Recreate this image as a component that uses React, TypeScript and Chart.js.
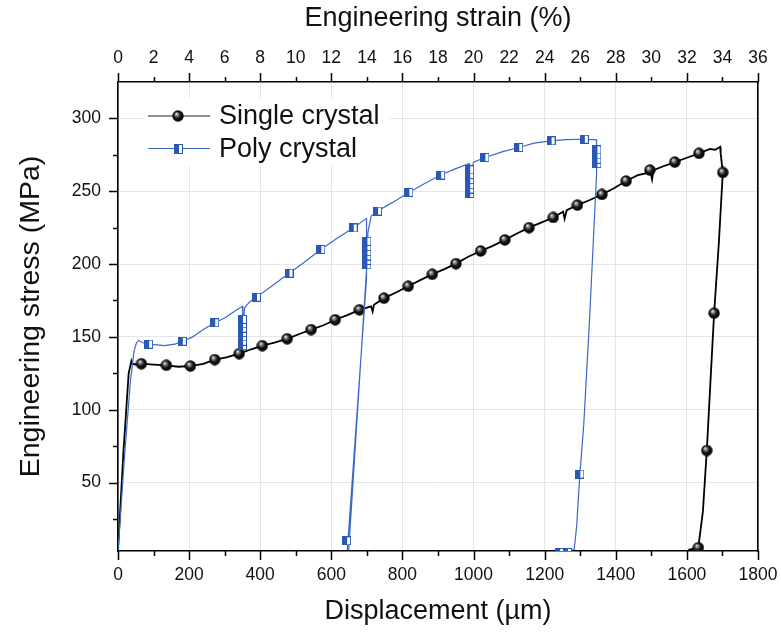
import React, { useEffect, useRef } from 'react';
import { Chart, registerables } from 'chart.js';

Chart.register(...registerables);

// ---------- data ----------
const singleLineX = [0, 15, 30, 37.7, 40, 50, 65.8, 100, 136, 170, 203.7, 240, 272, 305, 340.7, 375, 406, 440, 475.8, 510, 543, 578, 611, 645, 679, 712, 716, 720, 748, 782, 816, 850, 884, 918, 950.5, 985, 1020, 1054, 1088, 1122, 1156, 1190, 1224, 1252, 1256, 1262, 1292, 1327, 1361, 1395, 1429, 1462, 1498, 1502, 1506, 1532, 1566, 1600, 1634, 1665, 1680, 1693.5, 1695, 1701, 1690, 1676.6, 1666, 1656, 1645, 1632, 1604];
const singleLineY = [3, 70, 125, 133.4, 131.6, 131, 131.6, 131, 130.5, 129.5, 130, 131.5, 134.4, 136, 138.5, 141.5, 144, 146, 148.7, 152, 155, 158, 161.8, 165, 168.6, 171, 167.5, 172, 176.6, 180.5, 184.8, 189, 193, 196.5, 200.3, 205, 209, 212.5, 216.6, 221, 225, 228.5, 232, 236, 231, 237, 240.5, 244, 247.8, 252, 257, 261, 263, 258, 264.5, 267, 270, 273, 276, 279, 278.5, 280.5, 276, 262.9, 215, 166.3, 118, 72, 30, 5.3, 3.8];

const singleMarkX = [65.8, 136, 203.7, 272, 340.7, 406, 475.8, 543, 611, 679, 748, 816, 884, 950.5, 1020, 1088, 1156, 1224, 1292, 1361, 1429, 1496, 1566, 1634, 1701, 1676.6, 1656, 1632];
const singleMarkY = [131.6, 130.5, 130, 134.4, 138.5, 144, 148.7, 155, 161.8, 168.6, 176.6, 184.8, 193, 200.3, 209, 216.6, 225, 232, 240.5, 247.8, 257, 264.5, 270, 276, 262.9, 166.3, 72, 5.3];

const polyLineX = [0, 19, 35, 45, 52, 58, 70, 86, 110, 130, 160, 181, 210, 240, 272, 300, 330, 350, 351, 353, 356, 370, 389.5, 430, 481, 520, 570.5, 615, 661.5, 699, 700, 698, 645, 649, 700, 703, 712, 730, 770, 818, 860, 907.4, 950, 988, 989, 992, 1000, 1032, 1080, 1127, 1170, 1218, 1260, 1311.6, 1346, 1347, 1345, 1326, 1310, 1299, 1290, 1283, 1229];
const polyLineY = [3, 70, 120, 140, 146, 147.6, 146, 145, 144.5, 144, 145, 147, 150, 155, 159.7, 163, 168, 171, 141, 160, 170, 174, 177.3, 184.5, 193.7, 200.5, 210, 217.5, 224.8, 231.4, 197, 190, 4, 4, 200, 222, 233, 236.4, 242, 249.2, 255, 261.1, 265.5, 269, 246, 262, 270, 273.2, 277, 280, 283, 284.6, 285.5, 285.7, 285.3, 266.5, 262, 161, 90, 55.8, 20, 4, 3];

const polyMarkX = [86, 181, 272, 350, 350, 350, 350, 350, 350, 350, 389.5, 481, 570.5, 661.5, 700, 700, 700, 700, 700, 700, 643, 730, 818, 907.4, 989, 989, 989, 989, 989, 989, 1032, 1127, 1218, 1311.6, 1347, 1347, 1347, 1347, 1299, 1242, 1264];
const polyMarkY = [145, 147, 159.7, 144, 147, 150, 153, 156, 159, 162, 177.3, 193.7, 210, 224.8, 199.5, 202.5, 205.5, 208.5, 212, 215.6, 10, 236.4, 249.2, 261.1, 248.5, 251.5, 254.5, 258, 261.5, 264.7, 273.2, 280, 284.6, 285.7, 269, 272, 275, 278.4, 55.8, 2, 2];

// ---------- axes ----------
const displacementTicks = [0, 200, 400, 600, 800, 1000, 1200, 1400, 1600, 1800];
const displacementGrid = [0, 100, 200, 300, 400, 500, 600, 700, 800, 900, 1000, 1100, 1200, 1300, 1400, 1500, 1600, 1700, 1800];
const strainTicks = [0, 2, 4, 6, 8, 10, 12, 14, 16, 18, 20, 22, 24, 26, 28, 30, 32, 34, 36];
const stressTicks = [50, 100, 150, 200, 250, 300];
const stressMinor = [25, 75, 125, 175, 225, 275];
const xRange = [0, 1800];
const strainRange = [0, 36];
const yRange = [3, 325];

const seriesNames = ['Single crystal', 'Poly crystal'];

const FONT = "'Liberation Sans', Arial, Helvetica, sans-serif";
const BLUE = '#3d69c6';
const BLUE_FILL = '#2a58b6';

function makeSphere(d: number): HTMLCanvasElement {
  const c = document.createElement('canvas');
  c.width = d; c.height = d;
  const g = c.getContext('2d')!;
  const r = d / 2;
  const grad = g.createRadialGradient(r - 1.8, r - 2.2, 0.2, r, r, r);
  grad.addColorStop(0, '#f6f6f6');
  grad.addColorStop(0.22, '#8a8a8a');
  grad.addColorStop(0.55, '#151515');
  grad.addColorStop(1, '#000');
  g.beginPath();
  g.arc(r, r, r - 0.3, 0, Math.PI * 2);
  g.fillStyle = grad;
  g.fill();
  return c;
}

function makeHalfSquare(w: number, h: number): HTMLCanvasElement {
  const c = document.createElement('canvas');
  c.width = w; c.height = h;
  const g = c.getContext('2d')!;
  g.fillStyle = '#fff';
  g.fillRect(0, 0, w, h);
  g.fillStyle = BLUE_FILL;
  g.fillRect(0, 0, Math.ceil(w / 2), h);
  g.strokeStyle = BLUE_FILL;
  g.lineWidth = 1;
  g.strokeRect(0.5, 0.5, w - 1, h - 1);
  return c;
}

const pts = (xs: number[], ys: number[]) => xs.map((x, i) => ({ x, y: ys[i] }));

const noPad = (s: any) => { s.paddingLeft = 0; s.paddingRight = 0; s.paddingTop = 0; s.paddingBottom = 0; };

export default function App() {
  const ref = useRef<HTMLCanvasElement>(null);

  useEffect(() => {
    const canvas = ref.current!;
    const sphere = makeSphere(12);
    const sphereLegend = makeSphere(12);
    const square = makeHalfSquare(9, 9);
    const squareLegend = makeHalfSquare(9, 10);

    const tickPlugin = {
      id: 'customTicks',
      afterDraw(chart: any) {
        const { ctx, chartArea: a, scales } = chart;
        const x = scales.x;
        const y = scales.y;
        ctx.save();
        ctx.strokeStyle = '#000';
        ctx.lineWidth = 1.5;
        ctx.beginPath();
        displacementGrid.forEach((v) => {
          const px = Math.round(x.getPixelForValue(v)) + 0.5;
          const len = displacementTicks.includes(v) ? 9 : 5;
          ctx.moveTo(px, a.bottom);
          ctx.lineTo(px, a.bottom + len);
        });
        strainTicks.forEach((v, i) => {
          const px = Math.round(scales.x2.getPixelForValue(v)) + 0.5;
          const len = i % 2 === 0 ? 9 : 5;
          ctx.moveTo(px, a.top);
          ctx.lineTo(px, a.top - len);
        });
        stressTicks.forEach((v) => {
          const py = Math.round(y.getPixelForValue(v)) + 0.5;
          ctx.moveTo(a.left, py);
          ctx.lineTo(a.left - 9, py);
        });
        stressMinor.forEach((v) => {
          const py = Math.round(y.getPixelForValue(v)) + 0.5;
          ctx.moveTo(a.left, py);
          ctx.lineTo(a.left - 5, py);
        });
        ctx.stroke();
        ctx.restore();
      },
    };

    const legendPlugin = {
      id: 'customLegend',
      afterDraw(chart: any) {
        const { ctx, chartArea: a } = chart;
        ctx.save();
        const bx = a.left + 25;
        const by = a.top + 16;
        ctx.fillStyle = '#fff';
        ctx.fillRect(bx, by, 246, 68);
        const rows = [
          { y: a.top + 34, color: '#222', lw: 1, img: sphereLegend, name: seriesNames[0] },
          { y: a.top + 66.5, color: BLUE, lw: 1.2, img: squareLegend, name: seriesNames[1] },
        ];
        rows.forEach((r) => {
          ctx.strokeStyle = r.color;
          ctx.lineWidth = r.lw;
          ctx.beginPath();
          ctx.moveTo(a.left + 30, r.y);
          ctx.lineTo(a.left + 92, r.y);
          ctx.stroke();
          const mx = a.left + 60;
          ctx.drawImage(r.img, Math.round(mx - r.img.width / 2), Math.round(r.y - r.img.height / 2));
          ctx.fillStyle = '#111';
          ctx.font = `27px ${FONT}`;
          ctx.textBaseline = 'middle';
          ctx.textAlign = 'left';
          ctx.fillText(r.name, a.left + 101, r.y + 1);
        });
        ctx.restore();
      },
    };

    const gridColor = '#e6e6e6';
    const tickFont = { family: FONT, size: 17.5 };
    const titleFont = { family: FONT, size: 27 };

    const chart = new Chart(canvas, {
      type: 'scatter',
      data: {
        datasets: [
          {
            label: seriesNames[1] + ' markers',
            data: pts(polyMarkX, polyMarkY),
            showLine: false,
            pointStyle: square as any,
            pointRadius: 4.5,
            order: 0,
          },
          {
            label: seriesNames[1],
            data: pts(polyLineX, polyLineY),
            showLine: true,
            borderColor: BLUE,
            borderWidth: 1.2,
            pointRadius: 0,
            tension: 0,
            order: 1,
          },
          {
            label: seriesNames[0] + ' markers',
            data: pts(singleMarkX, singleMarkY),
            showLine: false,
            pointStyle: sphere as any,
            pointRadius: 6,
            order: 2,
          },
          {
            label: seriesNames[0],
            data: pts(singleLineX, singleLineY),
            showLine: true,
            borderColor: '#000',
            borderWidth: 1.8,
            pointRadius: 0,
            tension: 0,
            order: 3,
          },
        ],
      },
      options: {
        responsive: false,
        animation: false,
        events: [],
        layout: { padding: 0 },
        plugins: { legend: { display: false }, tooltip: { enabled: false } },
        scales: {
          x: {
            type: 'linear',
            position: 'bottom',
            min: xRange[0],
            max: xRange[1],
            afterBuildTicks: (s: any) => { s.ticks = displacementGrid.map((v) => ({ value: v })); },
            afterFit: (s: any) => { s.height = 84; noPad(s); },
            ticks: {
              font: tickFont,
              color: '#111',
              padding: 14,
              maxRotation: 0,
              autoSkip: false,
              callback: (v: any) => (displacementTicks.includes(Number(v)) ? String(v) : null),
            },
            grid: { color: gridColor, lineWidth: 1, drawTicks: false },
            border: { display: true, color: '#000', width: 1.6 },
            title: { display: true, text: 'Displacement (µm)', font: titleFont, color: '#111', padding: { top: 0, bottom: 7 } },
          },
          x2: {
            type: 'linear',
            position: 'top',
            min: strainRange[0],
            max: strainRange[1],
            afterBuildTicks: (s: any) => { s.ticks = strainTicks.map((v) => ({ value: v })); },
            afterFit: (s: any) => { s.height = 82; noPad(s); },
            ticks: { font: tickFont, color: '#111', padding: 13, maxRotation: 0, autoSkip: false },
            grid: { display: false, drawTicks: false },
            border: { display: true, color: '#000', width: 1.6 },
            title: { display: true, text: 'Engineering strain (%)', font: titleFont, color: '#111', padding: { top: 2, bottom: 0 } },
          },
          y: {
            type: 'linear',
            position: 'left',
            min: yRange[0],
            max: yRange[1],
            afterBuildTicks: (s: any) => { s.ticks = stressTicks.map((v) => ({ value: v })); },
            afterFit: (s: any) => { s.width = 118; noPad(s); },
            ticks: { font: tickFont, color: '#111', padding: 17, autoSkip: false },
            grid: { color: gridColor, lineWidth: 1, drawTicks: false },
            border: { display: true, color: '#000', width: 1.6 },
            title: { display: true, text: 'Engineering stress (MPa)', font: { family: FONT, size: 28.5 }, color: '#111', padding: { top: 14, bottom: 0 } },
          },
          y2: {
            type: 'linear',
            position: 'right',
            min: yRange[0],
            max: yRange[1],
            afterFit: (s: any) => { s.width = 23; noPad(s); },
            ticks: { display: false },
            grid: { display: false, drawTicks: false },
            border: { display: true, color: '#000', width: 1.6 },
          },
        },
      } as any,
      plugins: [tickPlugin, legendPlugin],
    });
    return () => chart.destroy();
  }, []);

  return (
    <div style={{ position: 'absolute', left: 0, top: 0, width: 781, height: 635, background: '#fff' }}>
      <canvas ref={ref} width={781} height={635} style={{ display: 'block', width: 781, height: 635 }} />
    </div>
  );
}
